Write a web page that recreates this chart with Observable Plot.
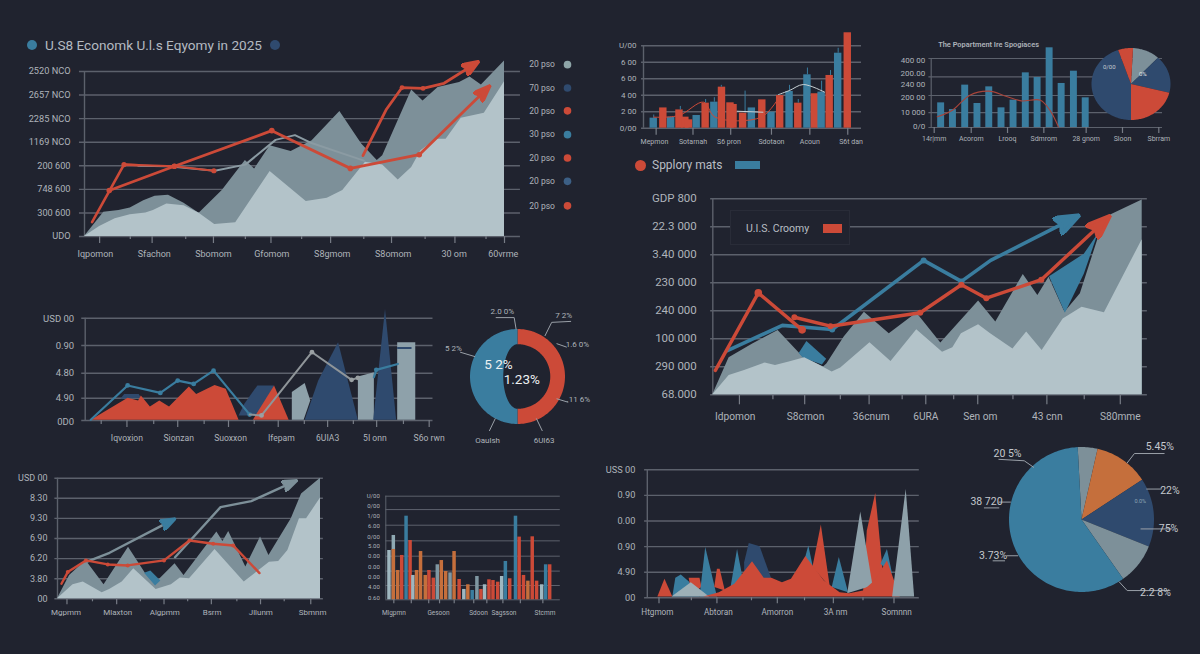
<!DOCTYPE html>
<html><head><meta charset="utf-8">
<script src="https://cdn.jsdelivr.net/npm/d3@7"></script>
<script src="https://cdn.jsdelivr.net/npm/@observablehq/plot@0.6"></script>
<style>
html,body{margin:0;padding:0;background:#20232f;overflow:hidden}
#root{position:relative;width:1200px;height:654px;background:#20232f;font-family:Roboto,"Liberation Sans",sans-serif;color:#b9bec4}
#root svg{position:absolute;left:0;top:0;background:transparent;overflow:visible}
.h{position:absolute;white-space:nowrap}
</style></head><body><div id="root">
<div class="h" style="left:27px;top:40px;width:10px;height:10px;border-radius:50%;background:#3a7d9f"></div>
<div class="h" style="left:45px;top:37px;font-size:13.6px;color:#b4bac1">U.S8 Economk U.l.s Eqyomy in 2025</div>
<div class="h" style="left:270px;top:40px;width:10px;height:10px;border-radius:50%;background:#2f4a6e"></div>
<div class="h" style="left:635px;top:160px;width:11px;height:11px;border-radius:50%;background:#cc4a38"></div>
<div class="h" style="left:652px;top:158px;font-size:12px;color:#b9bec4">Spplory mats</div>
<div class="h" style="left:735px;top:161px;width:25px;height:8px;background:#3a7d9f"></div>
</div>
<script>
// palette
const BG="#20232f",BLUE="#3a7d9f",RED="#cc4a38",NAVY="#2f4a6e",GRAY="#7d9099",LIGHT="#b3c3c9",ORANGE="#c56f3c",PALE="#9fb7c0",GRID="#5c616c",TXT="#aeb3ba";

// Panel 1 – large area chart
const p1YTicks=[0,1,2,3,4,5,6,7];
const p1YLabels=["UDO","300 600","748 600","200 600","1169 NCO","2285 NCO","2657 NCO","2520 NCO"];
const p1XLabelPos=[2.6,16.6,30.7,44.6,59,73.5,88,99.7];
const p1XLabels=["Iqpomon","Sfachon","Sbomom","Gfomom","S8gmom","S8omom","30 om","60vrme"];
const p1Major=[3.6,16.1,30.7,44.4,58.6,73.1,88.2,100];
const p1Minor=[10.9,24.1,38.3,51.7,66.5,81.1,95.6];
const p1FrontX=[0,3.6,7.3,10.9,14.6,16.4,19.6,23.7,27.3,31,36,44.2,52.8,57.8,61.5,66.9,71,74.7,77.9,80.1,83.8,86.1,89.7,95.2,100];
const p1FrontY=[0,.42,.75,.92,1,1.1,1.38,1.3,.99,.51,.58,2.76,1.48,1.62,1.95,3.15,3.03,2.4,2.93,3.64,4.13,4.13,5.02,5.23,6.57];
const p1BackX=[0,4.6,8.2,10.9,14.1,16.8,20,23.7,27.3,32.8,38.3,40.5,44.2,49.2,54.2,60.8,66,69.7,71,77.9,80.6,84.2,89.3,91.8,94.5,100];
const p1BackY=[0,1.03,1.1,1.21,1.52,1.71,1.75,1.41,.99,1.95,3.22,2.86,3.85,3.61,4.06,5.3,3.92,3.22,3.43,6.21,5.75,6.32,6.53,6.77,6.43,7.45];
const p1ThinX=[12.8,20,31,38.3,45.5,50.1,53.7,66.5];
const p1ThinY=[3,2.98,2.79,3.05,4.1,4.3,3.99,3.22];
const p1RedAX=[1.8,9.4,12.9], p1RedAY=[.61,3.05,3.02];
const p1RedA2X=[9.4,21.4,30.8], p1RedA2Y=[3.05,2.98,2.79];
const p1RedBX=[5.9,21.4,44.6,63.3,79.7,96.5], p1RedBY=[1.95,2.98,4.49,2.89,3.47,6.39];
const p1RedCX=[66.3,71.9,75.6,80.6,85.6,93.8], p1RedCY=[3.43,5.4,6.32,6.28,6.5,7.42];
const p1LegendLabels=["20 pso","70 pso","20 pso","30 pso","20 pso","20 pso","20 pso"];
const p1LegendY=[7.29,6.3,5.33,4.32,3.33,2.34,1.3];
const p1LegendColors=["#8ea5a8",NAVY,RED,BLUE,RED,"#3c5f85",RED];

// Panel 2 – bars top middle
const p2YTicks=[0,1,2,3,4,5];
const p2YLabels=["0/00","2 00","4 00","6 00","6 00","U/00"];
const p2XLabelPos=[5,22.7,39.2,58.7,76.3,95.2];
const p2XLabels=["Mepmon","Sotarnah","S6 pron","Sdotaon","Acoun","S6t dan"];
const p2Major=[5.8,22.7,40,58.7,76.3,93.7];
const p2BarX=[4.7,9.1,12.7,16.5,19.2,20.9,24.4,28.5,32.5,36,39.9,41.3,45.7,49.7,54.5,58.7,62.7,67,71,75.2,78.6,81.7,85.4,89.3,93.7];
const p2BarV=[.61,1.23,.67,1.11,.67,.51,.77,1.52,1.58,2.49,1.54,1.44,.91,1.23,1.72,.97,1.98,2.23,1.52,3.24,2.09,2.19,3.2,4.55,5.79];
const p2BarS=["b","r","b","r","r","r","b","r","b","r","r","r","r","b","r","b","r","b","r","b","r","b","r","b","r"];
const p2WickX=[4.7,16.9,28.5,32.5,35.7,46.6,67,71,75.2,81.7,85.8,89.3];
const p2WickLo=[.61,1.1,1.52,1.58,2.49,.91,2.23,1.52,3.24,2.19,3.2,4.55];
const p2WickHi=[.8,1.32,1.74,1.85,2.6,2.25,2.6,1.74,3.65,2.85,3.5,4.85];
const p2WhiteX=[61.9,67,73.3,83], p2WhiteY=[2.04,2.29,2.65,2.19];
const p2White2X=[43,54.8], p2White2Y=[1.03,.97];
const p2ThinX=[4.7,16.2,27.6,32.9,54,62.7], p2ThinY=[.67,.77,1.58,.67,.67,1.98];

// Panel 3 – bars + pie
const p3GridV=[0,21.7,46.4,73.4,100];
const p3YTicks=[1,21.7,43.5,62,78,97];
const p3YLabels=["0/0","10 000","200 00","240 00","200.00","400 00"];
const p3XLabelPos=[1.3,17.3,33,48.7,67,82.7,98.4];
const p3XLabels=["14r|mm","Acorom","Lrooq","Sdmrom","28 gnom","Sloon","Sbrram"];
const p3BarX=[4.3,9.4,14.7,20,25.1,30.4,35.6,40.9,46,51.2,56.4,61.7,66.8];
const p3BarV=[35.7,26,61.4,34.8,58.9,28.5,39.6,79.2,72.5,115.5,63.8,81.6,43];
const p3CurveX=[2.6,9.2,16.7,24.9,32.3,38.9,47.2,51.3,55];
const p3CurveY=[15.5,25.1,46.9,52.7,45.4,38.6,39.6,25.1,1];
const p3PieShares=[11.1,16.9,21.1,44.7,6.1];
const p3PieColors=[GRAY,NAVY,RED,NAVY,RED];

// Panel 4 – main right chart
const p4YTicks=[0,1,2,3,4,5,6,7];
const p4YLabels=["68.000","290 000","100 000","240 000","230 000","3.40 000","22.3 000","GDP 800"];
const p4XLabelPos=[5.2,21.6,36.9,49.6,62.3,77.9,94.9];
const p4XLabels=["Idpomon","S8cmon","36cnum","6URA","Sen om","43 cnn","S80mme"];
const p4Major=[6.2,21.4,36.4,49.6,61.7,77.8,94.9];
const p4Minor=[14,29.7,44.1,56.1,69.9,86.5];
const p4FrontX=[0,3.8,7.4,12.2,14.6,17.8,21.4,25,27.8,29.8,36.6,41.5,47.5,53.5,55.9,57.9,61.9,64.7,69.9,73.1,76.7,81.6,86,91.2,100];
const p4FrontY=[0,.69,.87,1.14,1.05,1.17,1.32,1.05,.81,.96,1.86,1.19,2.32,1.52,1.68,2.18,2.5,2.18,1.64,2.24,1.58,2.71,3.13,2.93,5.54];
const p4BackX=[0,3.8,9.4,15.2,21,25.8,26.6,30.6,35.3,41.1,47.5,53.1,61.9,65.9,72.3,75.7,78.3,82,85.6,89.6,92.4,100];
const p4BackY=[0,1.32,1.82,2.3,1.35,.99,1.11,2.06,2.95,2.18,2.92,1.85,3.35,2.6,4.3,3.55,4.2,2.95,3.61,5.51,6.4,6.96];
const p4Blue1X=[20,21.8,26.4,25.4,21], p4Blue1Y=[1.49,1.92,1.29,1.08,1.32];
const p4Blue2X=[78.3,86.4,89.6,86.4,82], p4Blue2Y=[4.23,5.04,5.75,4.32,2.93];
const p4BlueLX=[3.4,16.2,27.8,49.1,57.9,64.7,85.2], p4BlueLY=[1.58,2.48,2.33,4.8,4.05,4.8,6.4];
const p4Red1X=[.6,10.6,20.8], p4Red1Y=[.87,3.64,2.32];
const p4Red2X=[19,27.4,48.3,57.9,63.7,76.5,92.4], p4Red2Y=[2.77,2.45,2.93,3.93,3.45,4.11,6.38];

// Panel 5 – lower left shapes
const p5GridV=[0,.87,1.85,2.93,4];
const p5YTicks=[-.05,.87,1.85,2.93,3.96];
const p5YLabels=["0D0","4.90","4.80","0.90","USD 00"];
const p5XLabelPos=[12,26.9,41.8,56.4,69.7,83.3,98.9];
const p5XLabels=["Iqvoxion","Sionzan","Suoxxon","Ifepam","6UIA3","5I onn","S6o rwn"];
const p5Major=[12,26.6,41.2,55.5,69.7,83.8,98.9];
const p5Minor=[4.6,19.7,34.2,48.6,63,77.1,91.5];
const p5Shapes=[
 {c:NAVY,x:[10.1,11.2,15.4,16],y:[.85,1.04,1.04,.89]},
 {c:NAVY,x:[44.1,45.7,49.5,54.3,49.5],y:[.2,.65,1.37,1.37,.2]},
 {c:RED,x:[1.6,12.2,15.2,16,18.6,21.3,24.1,29.8,31.9,37.2,40.4,44.1],y:[.03,.89,.78,.98,.55,.78,.55,1.33,1.04,1.39,1.24,.03]},
 {c:RED,x:[48.2,54.3,58.5],y:[.03,1.37,.03]},
 {c:"#8ea1aa",x:[59.4,59.4,63.1,64.7,62.8],y:[.03,1.11,1.47,.78,.03]},
 {c:"#8ea1aa",x:[78.4,78.4,83,83],y:[.03,1.72,1.89,.03]},
 {c:"#8ea1aa",x:[89.7,89.7,94.9,94.9],y:[.03,3.06,3.06,.03]},
 {c:NAVY,x:[63.1,67,72.7,78.4],y:[.03,1.56,3.06,.03]},
 {c:NAVY,x:[82.8,86.2,89.4],y:[.03,4.36,.03]}
];
const p5Blue1X=[1.6,12.2,21.6,26.6,31.2,36.9,47.3], p5Blue1Y=[.03,1.37,1.08,1.56,1.43,1.95,.23];
const p5GrayX=[47.3,50.7,65.2,76.6,78.4], p5GrayY=[.23,.2,2.67,1.59,1.67];
const p5Blue2X=[83,83.7,89.9], p5Blue2Y=[1.69,1.98,2.21];
const p5DashX=[89.9,93.6], p5DashY=[2.83,2.83];

// Donut
const donutShares=[50,50];
const donutColors=[RED,BLUE];
const donutInnerX=[.69,.3];
const donutInnerY=[.68,.68];
const donutBig=["5 2%","1.23%"], donutBigX=[-.4,.09], donutBigY=[.24,-.07];
const donutLabels=["2.0 0%","7 2%","1.6 0%","5 2%",".11 6%","Oaulsh","6UI63"];
const donutLX=[-.32,.97,1.26,-1.35,1.28,-.63,.56], donutLY=[1.36,1.29,.67,.6,-.48,-1.35,-1.35];
const donutLeaders=[
 [[-.45,1.24],[-.07,1.24],[-.03,1]],
 [[1.12,1.16],[.72,1.14],[.58,.86]],
 [[1.03,.62],[.83,.69]],
 [[-1.2,.51],[-.9,.42]],
 [[1.06,-.54],[.83,-.47]],
 [[-.59,-1.14],[-.47,-.89]],
 [[.52,-1.14],[.4,-.89]]
];

// Panel 6 – bottom left area
const p6YTicks=[0,1,2,3,4,5,6];
const p6YLabels=["00","3.80","6.20","6.90","9.30","8.30","USD 00"];
const p6XLabelPos=[3.2,22.9,40.8,58.8,77.3,97];
const p6XLabels=["Mgpmm","Mlaxton","Algpmm","Bsrm","Jllunm","Sbmnm"];
const p6Major=[3.6,22.5,40.5,58.5,77.2,96.3];
const p6Minor=[13.3,31.5,49.5,68.2,86.2];
const p6FrontX=[0,5.9,9.8,17,19.8,24.6,29,37.5,43.3,46.7,50.2,59.9,71,80.6,84.1,87.6,92,94.7,100];
const p6FrontY=[0,.7,.83,.3,.46,.83,1.49,.46,.7,1.03,1,2.45,.83,1.82,1.86,2.4,3.98,3.98,5.01];
const p6BackX=[0,4.6,10.8,17.7,27,33.6,37.1,44.7,48.1,60.6,62.9,65.1,71.6,77.2,80.4,88.9,92.8,100];
const p6BackY=[0,1.16,1.91,.7,2.57,1.24,.75,1.74,1.16,3.32,2.85,3.35,1.58,3.07,2.16,3.98,5.22,6];
const p6BlueX=[32.9,35.3,39.1,37.1], p6BlueY=[1.29,1.41,.91,.66];
const p6Gray1X=[10.8,19.8,40.2], p6Gray1Y=[1.82,2.29,3.68];
const p6BlueArrowX=[40.2,44.7], p6BlueArrowY=[3.68,3.98];
const p6Gray2X=[44.7,62,73.7,91], p6Gray2Y=[2.07,4.56,4.86,5.89];
const p6RedX=[1.5,3.9,10.8,19.1,26.7,40.5,50.2,59.2,66.8,76.8];
const p6RedY=[.75,1.33,1.91,1.71,1.66,1.91,2.9,2.74,2.65,1.28];

// Panel 7 – small multi-colour bars
const p7GridV=[1.38,2.77,4.21,5.69,7.2,8.71,10];
const p7YTicks=[.2,1.22,2.2,3.2,4.18,5.14,6.08,7.1,8.1,9.06,10];
const p7YLabels=["0.60","4.00","0.00","0.00","0.00","5.00","0/00","6.00","1/00","0/00","U/00"];
const p7XLabelPos=[4.6,30.2,53.1,67.7,91.2];
const p7XLabels=["Mlgpmn","Gesoon","Sdoon","Sagsson","Stcmm"];
const p7Major=[4.6,14.6,24.6,30.8,39.2,50.4,57.9,67.1,77.1,90];
const p7BarX=[2.1,4.6,4.6,7.1,9.4,11.9,14.2,15.8,17.9,20.2,22.9,25,27.5,29.8,32.1,34.6,37.1,39.4,42.3,45,47.3,49.8,52.5,54.8,56.9,59.4,61.7,64.4,66.7,68.8,71.3,74.6,76.7,79.2,81.7,84.2,86.7,89.6,91.9,94.2];
const p7BarV=[4.76,6.21,4.86,2.83,4.28,8.07,5.72,2.35,2.83,4.66,2.35,2.83,2.09,3.38,3.79,2.73,2.6,4.66,1.96,1,1.45,.9,2.25,1,1.45,1.93,1.86,1.7,2.25,3.7,2.03,8.07,6.05,2.35,1.8,6.08,1.8,1.45,3.38,3.38];
const p7BarS=["l","p","o","o","r","b","r","l","o","o","o","r","r","g","o","o","g","o","r","l","o","b","g","r","l","r","r","r","l","b","r","b","r","r","o","r","r","l","b","r"];

// Panel 8 – spikes
const p8YTicks=[0,1,2,3,4,5];
const p8YLabels=["00","4.90","0.90","0.00","0.90","USS 00"];
const p8XLabelPos=[3.7,26.1,47.8,69.2,91.7];
const p8XLabels=["Htgmom","Abtoran","Amorron","3A nm","Somnnn"];
const p8Major=[4.3,25.6,47.8,68.4,90.7];
const p8Minor=[16.2,38.3,57.8,79.3];
const p8Shapes=[
 {c:RED,x:[3.7,6.3,9.2],y:[.05,.74,.05]},
 {c:BLUE,x:[9.2,10.3,12.3,15.6,19.2],y:[.05,.78,.91,.61,.05]},
 {c:RED,x:[15.2,19.2,19.9,16.3],y:[.78,.78,.42,.16]},
 {c:BLUE,x:[19.2,21.3,25.6],y:[.05,1.98,.05]},
 {c:RED,x:[24.6,25.6,26.6,28.5],y:[.42,1.13,1.13,.29]},
 {c:BLUE,x:[30.6,33,35.2],y:[.42,1.91,.68]},
 {c:NAVY,x:[35.6,37.3,41.3,45.6,35.6],y:[1.39,2.14,2.01,.74,.55]},
 {c:BLUE,x:[56.4,59.2,61.4],y:[.94,2.04,.94]},
 {c:RED,x:[60.7,63.8,67.1],y:[1.2,2.86,.42]},
 {c:BLUE,x:[67.8,70.4,73.8],y:[.42,1.59,.22]},
 {c:RED,x:[79.3,80.7,83.8,86.4,85],y:[.16,2.63,4.09,1.2,.29]},
 {c:"#8ea1aa",x:[73.5,78.3,82.8],y:[.18,3.37,.48]},
 {c:BLUE,x:[85.7,88.1,90],y:[1.33,1.91,.94]},
 {c:"#9db0b7",x:[8.9,16,22.7],y:[.05,.61,.05]},
 {c:RED,x:[20.6,26.3,32,38.5,42.8,45.6,49.5,52.8,58.1,64.9,70.7,74.2,79.3,83.5,88.1,92.8],y:[.05,.22,.55,1.43,.78,.78,.61,.74,1.63,.68,.22,.18,.29,.68,1.46,.05]},
 {c:"#8ea1aa",x:[90,95,98.1],y:[.05,4.26,.05]}
];

// Panel 9 – big pie
const p9Shares=[4.4,12.2,15.3,9.2,58.9];
const p9Colors=[GRAY,ORANGE,NAVY,GRAY,BLUE];
const p9Labels=["20 5%","5.45%","22%","75%","38 720","3.73%","2.2 8%"];
const p9LX=[-1.02,1.08,1.22,1.2,-1.31,-1.22,1.02], p9LY=[.91,1,.4,-.12,.24,-.5,-1.01];
const p9Leaders=[
 [[-1.14,.83],[-.79,.81],[-.66,.72]],
 [[1.14,.91],[.73,.91],[.63,.78]],
 [[1.1,.42],[.9,.42]],
 [[1.25,-.13],[.82,-.13]],
 [[-.98,.24],[-1.14,.24]],
 [[-1.34,.16],[-1.14,.16]],
 [[-.88,-.5],[-1.03,-.5]],
 [[-1.22,-.57],[-1.06,-.57]],
 [[.52,-.86],[.63,-.98],[1.22,-.98]]
];

// helpers
const zip=(xs,ys)=>xs.map((x,i)=>[x,ys[i]]);
const fx=d=>d[0], fy=d=>d[1];
const fillPoly=(xs,ys,c)=>Plot.line(zip(xs,ys),{x:fx,y:fy,fill:c,stroke:"none"});
const areaOf=(xs,ys,c)=>Plot.areaY(zip(xs,ys),{x:fx,y:fy,fill:c});
const lineOf=(xs,ys,c,w,extra={})=>Plot.line(zip(xs,ys),{x:fx,y:fy,stroke:c,strokeWidth:w,strokeLinejoin:"round",...extra});
const dotsOf=(xs,ys,c,r)=>Plot.dot(zip(xs,ys),{x:fx,y:fy,fill:c,r});
const arrowHead=(len,half)=>(color,context)=>{
  const ns="http://www.w3.org/2000/svg",m=context.document.createElementNS(ns,"marker"),p=context.document.createElementNS(ns,"path");
  m.setAttribute("viewBox",`${-len} ${-half} ${len*2} ${half*2}`);
  m.setAttribute("markerWidth",len*2);m.setAttribute("markerHeight",half*2);
  m.setAttribute("markerUnits","userSpaceOnUse");m.setAttribute("orient","auto");
  m.setAttribute("refX",len*.9);m.setAttribute("refY",0);
  p.setAttribute("d",`M${-len} ${-half}L${len} 0L${-len} ${half}L${-len*.6} 0Z`);p.setAttribute("fill",color);
  m.appendChild(p);return m;
};
const yAxis=(ticks,labels,pad,size)=>Plot.axisY(ticks,{tickFormat:v=>labels[ticks.indexOf(v)],tickSize:0,tickPadding:pad,fontSize:size,color:TXT,label:null});
const xLabels=(pos,labels,pad,size)=>Plot.axisX(pos,{tickFormat:v=>labels[pos.indexOf(v)],tickSize:0,tickPadding:pad,fontSize:size,color:TXT,label:null});
const xTicks=(pos,len)=>Plot.axisX(pos,{tickFormat:()=>"",tickSize:len,stroke:"#777c86",strokeWidth:1.2,label:null});
const gridY=(vals,x1,x2,w=1.4)=>Plot.ruleY(vals,{x1,x2,stroke:GRID,strokeWidth:w});
const root=document.getElementById("root");
function panel(l,r,t,b,ymax,marks,xd=[0,100],yd=null){
  const bare=yd?{axis:null}:{};
  root.appendChild(Plot.plot({width:1200,height:654,marginLeft:l,marginRight:1200-r,marginTop:t,marginBottom:654-b,
    x:{domain:xd,...bare},y:{domain:yd||[0,ymax],...bare},color:{type:"identity"},
    style:{fontFamily:'Roboto,"Liberation Sans",sans-serif',background:"transparent"},marks}));
}
function pieRows(shares,start,innerX=null,innerY=null){
  const arcs=d3.pie().sort(null).startAngle(start).endAngle(start+2*Math.PI)(shares);
  return arcs.map((a,k)=>{
    const n=Math.max(3,Math.ceil((a.endAngle-a.startAngle)*40)),pts=[];
    const steps=d3.range(n+1).map(i=>a.startAngle+(a.endAngle-a.startAngle)*i/n);
    steps.forEach(t=>pts.push([Math.sin(t),Math.cos(t)]));
    if(innerX) steps.slice().reverse().forEach(t=>pts.push([innerX[k]*Math.sin(t),innerY[k]*Math.cos(t)]));
    else pts.push([0,0]);
    return pts;
  });
}
const pieMarks=(rows,colors)=>rows.map((pts,k)=>Plot.line(pts,{x:fx,y:fy,fill:colors[k],stroke:"none"}));
const leaderMarks=(ls)=>ls.map(l=>Plot.line(l,{x:fx,y:fy,stroke:"#9aa0a8",strokeWidth:1}));
const labelMark=(labels,xs,ys,size,c=TXT,extra={})=>Plot.text(labels,{x:(d,i)=>xs[i],y:(d,i)=>ys[i],text:d=>d,fontSize:size,fill:c,...extra});
const barFill=s=>({b:BLUE,r:RED,o:ORANGE,l:PALE,p:"#8fa9b3",g:"#7f97a2"}[s]);

// P1
panel(84,504,71,236,7,[
  gridY(p1YTicks,-1.2,103.8),
  Plot.ruleX([0],{stroke:GRID,strokeWidth:1.4}),
  areaOf(p1BackX,p1BackY,GRAY),
  areaOf(p1FrontX,p1FrontY,LIGHT),
  lineOf(p1ThinX,p1ThinY,"#8b9ba3",2),
  lineOf(p1RedAX,p1RedAY,RED,2.6),
  lineOf(p1RedA2X,p1RedA2Y,RED,2.2),
  dotsOf(p1RedA2X,p1RedA2Y,RED,2.6),
  lineOf(p1RedBX,p1RedBY,RED,2.8,{markerEnd:arrowHead(9,7)}),
  dotsOf(p1RedBX.slice(0,5),p1RedBY.slice(0,5),RED,2.8),
  lineOf(p1RedCX,p1RedCY,RED,2.8,{markerEnd:arrowHead(9,7)}),
  dotsOf(p1RedCX.slice(2,4),p1RedCY.slice(2,4),RED,2.4),
  labelMark(p1LegendLabels,p1LegendY.map(()=>112),p1LegendY,8.5,TXT,{textAnchor:"end"}),
  Plot.dot(p1LegendY,{x:115,y:d=>d,r:3.8,fill:(d,i)=>p1LegendColors[i]}),
  yAxis(p1YTicks,p1YLabels,14,9.2),
  xTicks(p1Major,7),xTicks(p1Minor,3),
  xLabels(p1XLabelPos,p1XLabels,14,9)
]);

// P2
panel(643,861,45.3,127.7,5,[
  gridY(p2YTicks,-.9,100),
  Plot.ruleX([0],{stroke:GRID,strokeWidth:1.4}),
  Plot.rect(p2BarX,{x1:d=>d-1.7,x2:d=>d+1.7,y1:0,y2:(d,i)=>p2BarV[i],fill:(d,i)=>barFill(p2BarS[i])}),
  Plot.ruleX(p2WickX,{y1:(d,i)=>p2WickLo[i],y2:(d,i)=>p2WickHi[i],stroke:BLUE,strokeWidth:1}),
  lineOf(p2ThinX,p2ThinY,RED,1,{curve:"catmull-rom"}),
  lineOf(p2WhiteX,p2WhiteY,"#c9d2d6",1,{curve:"catmull-rom"}),
  lineOf(p2White2X,p2White2Y,"#c9d2d6",1),
  yAxis(p2YTicks,p2YLabels,7,8),
  xTicks(p2Major,7),
  xLabels(p2XLabelPos,p2XLabels,11,7)
]);

// P3
panel(930.7,1162,58,127,100,[
  gridY(p3GridV,-1,100,1.2),
  Plot.ruleX([0],{stroke:GRID,strokeWidth:1.2}),
  Plot.rect(p3BarX,{x1:d=>d-1.5,x2:d=>d+1.5,y1:0,y2:(d,i)=>p3BarV[i],fill:BLUE}),
  lineOf(p3CurveX,p3CurveY,"#a8443a",1.1,{curve:"catmull-rom"}),
  Plot.text(["The Popartment Ire Spogiaces"],{x:24.8,y:120,text:d=>d,fontSize:7.4,fontWeight:600,fill:TXT}),
  yAxis(p3YTicks,p3YLabels,6,8),
  xTicks(p3XLabelPos,6),
  xLabels(p3XLabelPos,p3XLabels,9,7)
]);
panel(1091,1170,47.5,119.5,1,[
  ...pieMarks(pieRows(p3PieShares,3*Math.PI/180),p3PieColors),
  Plot.text(["0/00"],{x:-.55,y:.47,text:d=>d,fontSize:6,fill:"#c7ccd1"}),
  Plot.text(["0%"],{x:.3,y:.28,text:d=>d,fontSize:6,fill:"#e4e4e4"})
],[-1,1],[-1,1]);

// P4
panel(712.3,1141.7,198.3,394.3,7,[
  gridY(p4YTicks,-.5,101.2),
  Plot.ruleX([0],{stroke:GRID,strokeWidth:1.4}),
  areaOf(p4BackX,p4BackY,GRAY),
  fillPoly(p4Blue1X,p4Blue1Y,BLUE),
  fillPoly(p4Blue2X,p4Blue2Y,BLUE),
  areaOf(p4FrontX,p4FrontY,LIGHT),
  lineOf(p4BlueLX,p4BlueLY,BLUE,3.6,{markerEnd:arrowHead(13,10)}),
  dotsOf(p4BlueLX.slice(2,5),p4BlueLY.slice(2,5),BLUE,3),
  lineOf(p4Red1X,p4Red1Y,RED,3.4),
  lineOf(p4Red2X,p4Red2Y,RED,3.4,{markerEnd:arrowHead(13,10)}),
  dotsOf(p4Red1X.slice(1),p4Red1Y.slice(1),RED,3.8),
  dotsOf(p4Red2X.slice(0,6),p4Red2Y.slice(0,6),RED,3),
  yAxis(p4YTicks,p4YLabels,16,11.5),
  xTicks(p4Major,10),xTicks(p4Minor,5),
  xLabels(p4XLabelPos,p4XLabels,18,10.2)
]);
// in-chart key of panel 4
const key=document.createElement("div");key.className="h";
key.style.cssText="left:730px;top:210px;width:120px;height:35px;background:#20232f;border:1px solid #292c38;box-sizing:border-box";
root.appendChild(key);
const keyT=document.createElement("div");keyT.className="h";keyT.textContent="U.I.S. Croomy";
keyT.style.cssText="left:746px;top:222px;font-size:10.5px;color:#b9bec4";root.appendChild(keyT);
const keyS=document.createElement("div");keyS.className="h";
keyS.style.cssText="left:823px;top:224px;width:19px;height:9px;background:#cc4a38";root.appendChild(keyS);

// P5
panel(84.7,432.5,317.7,420,4,[
  gridY(p5GridV,-1,100),
  Plot.ruleX([0],{stroke:GRID,strokeWidth:1.4}),
  ...p5Shapes.map(s=>fillPoly(s.x,s.y,s.c)),
  lineOf(p5DashX,p5DashY,NAVY,2),
  lineOf(p5Blue1X,p5Blue1Y,BLUE,2.2),
  dotsOf(p5Blue1X.slice(1),p5Blue1Y.slice(1),BLUE,2.4),
  lineOf(p5GrayX,p5GrayY,"#8f9599",2),
  dotsOf(p5GrayX.slice(1),p5GrayY.slice(1),"#9aa0a3",2.4),
  lineOf(p5Blue2X,p5Blue2Y,BLUE,2.2),
  dotsOf(p5Blue2X.slice(1,2),p5Blue2Y.slice(1,2),BLUE,2.4),
  yAxis(p5YTicks,p5YLabels,11,9.5),
  xTicks(p5Major,7),xTicks(p5Minor,4),
  xLabels(p5XLabelPos,p5XLabels,14,8.6)
]);

// Donut
panel(469.5,564.5,328.5,423.5,1,[
  ...pieMarks(pieRows(donutShares,0,donutInnerX,donutInnerY),donutColors),
  ...leaderMarks(donutLeaders),
  labelMark(donutBig,donutBigX,donutBigY,13.5,"#eef1f2"),
  labelMark(donutLabels,donutLX,donutLY,8)
],[-1,1],[-1,1]);

// P6
panel(57,320,477.7,598.3,6,[
  gridY(p6YTicks,-1,101.1),
  Plot.ruleX([0],{stroke:GRID,strokeWidth:1.4}),
  areaOf(p6BackX,p6BackY,GRAY),
  fillPoly(p6BlueX,p6BlueY,BLUE),
  areaOf(p6FrontX,p6FrontY,LIGHT),
  lineOf(p6Gray1X,p6Gray1Y,GRAY,2.4),
  lineOf(p6BlueArrowX,p6BlueArrowY,BLUE,2.4,{markerEnd:arrowHead(8,6)}),
  lineOf(p6Gray2X,p6Gray2Y,GRAY,2.4,{markerEnd:arrowHead(8,6)}),
  lineOf(p6RedX,p6RedY,RED,2.4),
  dotsOf(p6RedX.slice(1,9),p6RedY.slice(1,9),RED,2),
  yAxis(p6YTicks,p6YLabels,10,9),
  xTicks(p6Major,6),xTicks(p6Minor,3),
  xLabels(p6XLabelPos,p6XLabels,11,8)
]);

// P7
panel(385.3,559.8,495.7,599.3,10,[
  gridY(p7GridV,0,100,1),
  Plot.ruleY([0],{stroke:GRID,strokeWidth:1}),
  Plot.ruleX([0],{stroke:GRID,strokeWidth:1}),
  Plot.rect(p7BarX,{x1:d=>d-1,x2:d=>d+1,y1:0,y2:(d,i)=>p7BarV[i],fill:(d,i)=>barFill(p7BarS[i])}),
  yAxis(p7YTicks,p7YLabels,6,6),
  xTicks(p7Major,4),
  xLabels(p7XLabelPos,p7XLabels,11,6.5)
]);

// P8
panel(646.8,918.8,469.3,597.3,5,[
  gridY(p8YTicks,-1,100),
  Plot.ruleX([0],{stroke:GRID,strokeWidth:1.4}),
  ...p8Shapes.map(s=>fillPoly(s.x,s.y,s.c)),
  yAxis(p8YTicks,p8YLabels,12,9.2),
  xTicks(p8Major,6),xTicks(p8Minor,3),
  xLabels(p8XLabelPos,p8XLabels,11,8.2)
]);

// P9
panel(1008.5,1153.5,446.5,591.5,1,[
  ...pieMarks(pieRows(p9Shares,-3*Math.PI/180),p9Colors),
  ...leaderMarks(p9Leaders),
  labelMark(p9Labels,p9LX,p9LY,10.5,"#c4c8cd"),
  Plot.text(["0.0%"],{x:.81,y:.25,text:d=>d,fontSize:5.5,fill:"#8ea4b5"})
],[-1,1],[-1,1]);
</script></body></html>
